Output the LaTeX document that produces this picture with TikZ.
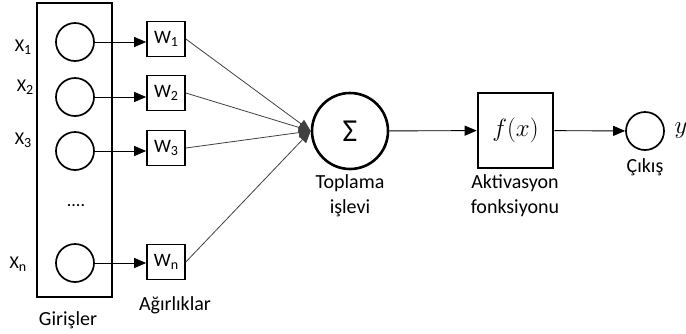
\documentclass[tikz,border=0pt]{standalone}
\usepackage{fontspec}
\setmainfont{Carlito}
\usetikzlibrary{arrows.meta}
\newcommand{\lowsub}[1]{\raisebox{-0.15em}{\fontsize{14}{14}\selectfont #1}}
\tikzset{
  neuron/.style={circle,draw,line width=1.7pt,minimum size=38pt,inner sep=0pt},
  wbox/.style={draw,line width=1.7pt,minimum width=38pt,minimum height=35pt,inner sep=0pt,font=\fontsize{19}{22}\selectfont},
  xlbl/.style={inner sep=0pt,font=\fontsize{18}{22}\selectfont},
  lbl/.style={align=center,font=\fontsize{20}{25}\selectfont},
  tip/.style={line width=0.9pt,-{Triangle[length=12pt,width=10pt]}},
  conn/.style={line width=0.8pt,draw=black!75,-{Triangle[length=12pt,width=10pt]}},
}
\begin{document}
\begin{tikzpicture}[x=1pt,y=-1pt]
  \useasboundingbox (0,0) rectangle (686,333);
  % inputs
  \node[draw,line width=2.2pt,minimum width=75pt,minimum height=294pt,inner sep=0pt] (giris) at (74.5,150) {};
  \node[neuron,line width=2.6pt,minimum size=76pt] (sum) at (350,131) {\fontsize{32}{32}\selectfont Σ};
  \foreach \i/\y/\wy/\lx/\ly in {1/42/39/23/47, 2/97/93/25/87, 3/151/148/23/140, n/263/262/18/264} {
    \node[neuron] (x\i) at (75,\y) {};
    \node[wbox] (w\i) at (166,\wy) {W\lowsub{\i}};
    \node[xlbl] (lx\i) at (\lx,\ly) {X\lowsub{\i}};
    \draw[tip] (x\i.east) -- (x\i.east -| w\i.west);
    \draw[conn] (w\i.east) -- (sum.west);
  }
  \node[font=\fontsize{18}{18}\selectfont] (dots) at (76,206) {....};

  \node[draw,line width=2.6pt,minimum size=75pt,inner sep=0pt] (akt) at (515.5,130.5) {\fontsize{25}{25}\selectfont$f(x)$};
  \node[neuron] (cikis) at (645,131) {};
  \node[inner sep=0pt,font=\fontsize{25}{25}\selectfont] (y) at (681,131) {$y$};
  \draw[tip] (sum) -- (akt);
  \draw[tip] (akt) -- (cikis);

  % labels
  \node[lbl] (toplama) at (350,196) {Toplama\\işlevi};
  \node[lbl] (aktlbl) at (515,196) {Aktivasyon\\fonksiyonu};
  \node[lbl] (cikislbl) at (645,167) {Çıkış};
  \node[lbl] (agirlik) at (175,305) {Ağırlıklar};
  \node[lbl] (girislbl) at (68,320) {Girişler};
\end{tikzpicture}
\end{document}
